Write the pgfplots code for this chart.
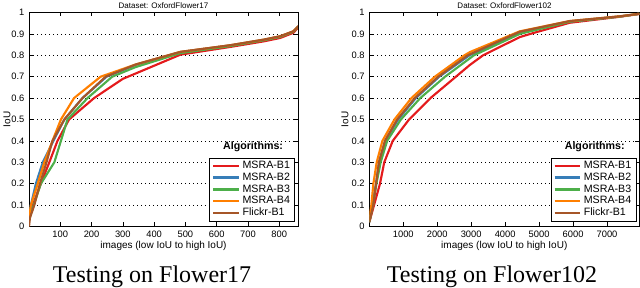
\documentclass[border=0pt]{standalone}
\usepackage{pgfplots}
\pgfplotsset{compat=1.18}
\usepackage{fontspec}
\setmainfont{Liberation Serif}
\setsansfont{Liberation Sans}
\definecolor{cR}{HTML}{E41A1C}
\definecolor{cB}{HTML}{377EB8}
\definecolor{cG}{HTML}{4DAF4A}
\definecolor{cO}{HTML}{FF7F00}
\definecolor{cN}{HTML}{A65628}
\pgfplotsset{
  myax/.style={
    scale only axis, height=160.5pt,
    anchor=south west,
    ymin=0, ymax=1,
    ytick={0,0.1,0.2,0.3,0.4,0.5,0.6,0.7,0.8,0.9,1},
    yticklabels={0,0.1,0.2,0.3,0.4,0.5,0.6,0.7,0.8,0.9,1},
    ymajorgrids, grid style={black, line width=0.5pt, dash pattern=on 0.8pt off 2.2pt},
    tick align=inside, tick style={black, line width=0.4pt}, major tick length=3pt,
    axis line style={black, line width=0.6pt},
    ticklabel style={font=\sffamily\fontsize{7}{8}\selectfont},
    /pgf/number format/assume math mode=true,
    /pgf/number format/set thousands separator={},
    scaled x ticks=false,
    xlabel={images (low IoU to high IoU)}, ylabel={IoU},
    xlabel style={font=\sffamily\fontsize{7.5}{8}\selectfont, at={(axis description cs:0.5,-0.091)}, anchor=center},
    ylabel style={font=\sffamily\fontsize{7.5}{8}\selectfont, at={(axis description cs:-0.082,0.5)}, anchor=center},
    legend style={at={(axis description cs:0.989,0.023)}, anchor=south east, draw=black, line width=0.6pt,
      font=\sffamily\fontsize{8}{9}\selectfont, inner xsep=1.5pt, inner ysep=0.5pt, row sep=-2.3pt},
    legend cell align=left,
    legend image code/.code={\draw[#1, line width=2pt] (0pt,0pt) -- (19pt,0pt);},
    every axis plot/.append style={line width=1.6pt, line join=round},
  }
}
\begin{document}
\begin{tikzpicture}
\useasboundingbox (0pt,0pt) rectangle (480pt,-216pt);
\begin{axis}[myax, at={(21.75pt,-169.875pt)}, width=201.75pt, xmin=0, xmax=860,
  xtick={100,200,300,400,500,600,700,800}]
\addplot[cR] coordinates {(0,0.03)(12,0.1)(38,0.2)(65,0.3)(91,0.4)(128,0.5)(208,0.6)(300,0.69)(341,0.715)(484,0.803)(643,0.839)(750,0.865)(803,0.881)(845,0.905)(861,0.93)};
\addplot[cB] coordinates {(0,0.04)(6,0.1)(22,0.2)(44,0.3)(78,0.4)(113,0.5)(171,0.6)(248,0.7)(341,0.755)(484,0.815)(643,0.846)(750,0.872)(803,0.888)(845,0.911)(861,0.935)};
\addplot[cG] coordinates {(0,0.03)(15,0.1)(38,0.2)(81,0.3)(102,0.4)(123,0.5)(187,0.6)(266,0.7)(341,0.745)(484,0.81)(643,0.843)(750,0.87)(803,0.886)(845,0.91)(861,0.934)};
\addplot[cO] coordinates {(0,0.04)(6,0.1)(28,0.2)(49,0.3)(75,0.4)(102,0.5)(144,0.6)(229,0.7)(341,0.757)(484,0.816)(643,0.847)(750,0.873)(803,0.889)(845,0.912)(861,0.936)};
\addplot[cN] coordinates {(0,0.0)(3,0.04)(17,0.1)(35,0.2)(56,0.3)(75,0.4)(113,0.5)(171,0.6)(245,0.7)(341,0.757)(484,0.816)(643,0.847)(750,0.873)(803,0.889)(845,0.912)(861,0.936)};
\legend{MSRA-B1,MSRA-B2,MSRA-B3,MSRA-B4,Flickr-B1}
\node[font=\sffamily\bfseries\fontsize{8}{9}\selectfont] at (rel axis cs:0.833,0.373) {Algorithms:};
\end{axis}
\begin{axis}[myax, at={(276.975pt,-169.875pt)}, width=202.5pt, xmin=0, xmax=7950,
  xtick={1000,2000,3000,4000,5000,6000,7000},
  ylabel style={at={(axis description cs:-0.09,0.5)}}]
\addplot[cR] coordinates {(0,0.02)(140,0.1)(315,0.2)(440,0.3)(690,0.4)(1170,0.5)(1800,0.6)(2550,0.7)(2962,0.755)(3350,0.8)(4430,0.885)(4850,0.905)(5900,0.952)(7370,0.98)(7950,0.993)};
\addplot[cB] coordinates {(0,0.02)(90,0.1)(197,0.2)(285,0.3)(470,0.4)(850,0.5)(1370,0.6)(2060,0.7)(2950,0.8)(4430,0.905)(5900,0.958)(7370,0.981)(7950,0.994)};
\addplot[cG] coordinates {(0,0.02)(110,0.1)(210,0.2)(334,0.3)(525,0.4)(930,0.5)(1500,0.6)(2230,0.7)(3080,0.8)(4430,0.9)(5900,0.957)(7370,0.981)(7950,0.994)};
\addplot[cO] coordinates {(0,0.03)(60,0.1)(120,0.2)(218,0.3)(385,0.4)(740,0.5)(1240,0.6)(1930,0.7)(2800,0.8)(2962,0.815)(4430,0.912)(5900,0.96)(7370,0.982)(7950,0.994)};
\addplot[cN] coordinates {(0,0.02)(118,0.1)(200,0.2)(285,0.3)(460,0.4)(820,0.5)(1340,0.6)(2030,0.7)(2900,0.8)(4430,0.91)(5900,0.96)(7370,0.982)(7950,0.994)};
\legend{MSRA-B1,MSRA-B2,MSRA-B3,MSRA-B4,Flickr-B1}
\node[font=\sffamily\bfseries\fontsize{8}{9}\selectfont] at (rel axis cs:0.835,0.373) {Algorithms:};
\end{axis}
\node[font=\sffamily\fontsize{6}{7}\selectfont, inner sep=0pt] at (122.6pt,-4.2pt) {Dataset: OxfordFlower17};
\node[font=\sffamily\fontsize{6}{7}\selectfont, inner sep=0pt] at (378.4pt,-4.2pt) {Dataset: OxfordFlower102};
\node[anchor=base, font=\fontsize{18}{20}\selectfont] at (114pt,-212.25pt) {Testing on Flower17};
\node[anchor=base, font=\fontsize{18}{20}\selectfont] at (369pt,-212.25pt) {Testing on Flower102};
\end{tikzpicture}
\end{document}
